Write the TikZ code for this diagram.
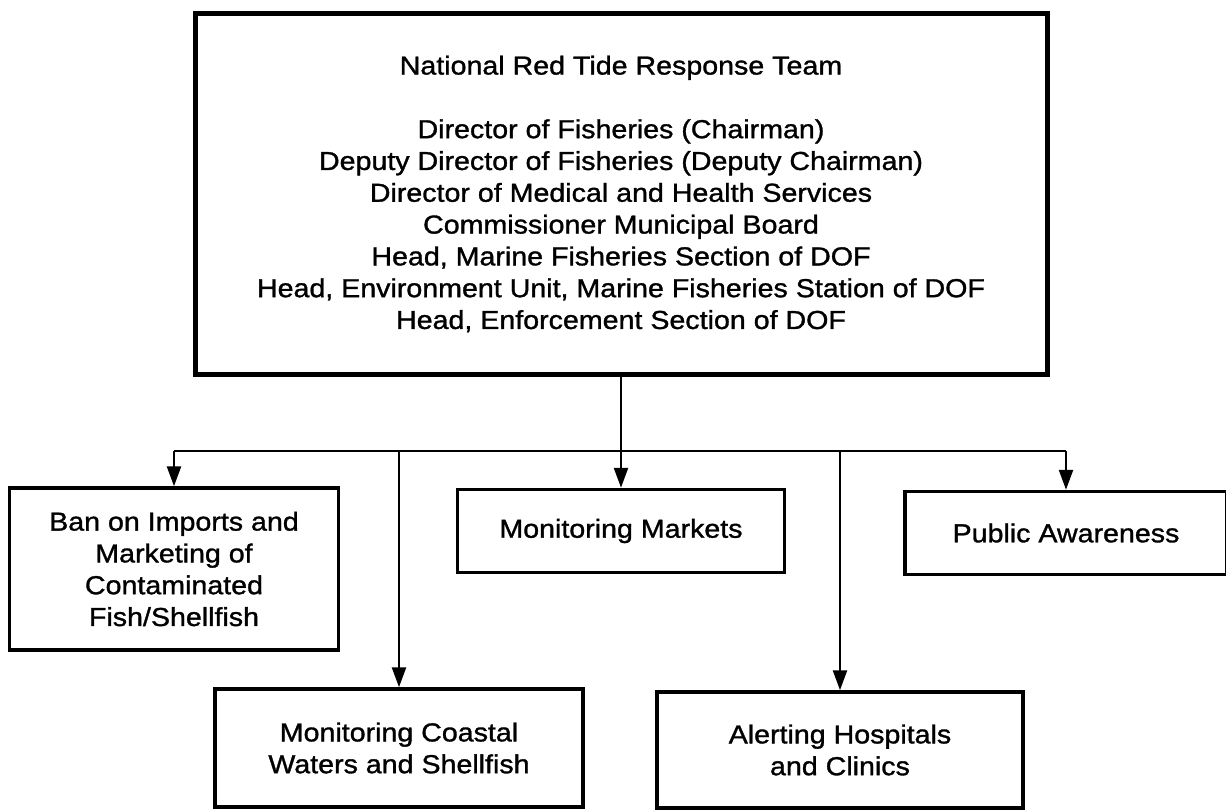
\documentclass[tikz,border=0pt]{standalone}
\usepackage{fontspec}
\setmainfont[FakeStretch=1.1, FakeBold=1.2]{Liberation Sans}
\usetikzlibrary{arrows.meta}

\tikzset{
    teambox/.style={draw, line width=5pt, minimum width=852pt, minimum height=360pt, align=center, inner sep=0pt},
    taskbox/.style={draw, line width=3.5pt, align=center, inner sep=0pt},
    link/.style={line width=2.5pt},
}

\begin{document}
\begin{tikzpicture}[x=1pt, y=-1pt, >={Triangle[length=20pt, width=14pt]},
    font=\fontsize{26}{31.8}\selectfont]
    \useasboundingbox (0,0) rectangle (1226,810);

    % --- Equipo nacional ---
    \node[teambox] (team) at (621,194) {National Red Tide Response Team\\[31.8pt]
        Director of Fisheries (Chairman)\\
        Deputy Director of Fisheries (Deputy Chairman)\\
        Director of Medical and Health Services\\
        Commissioner Municipal Board\\
        Head, Marine Fisheries Section of DOF\\
        Head, Environment Unit, Marine Fisheries Station of DOF\\
        Head, Enforcement Section of DOF};

    % --- Tareas (fila superior) ---
    \node[taskbox, minimum width=329pt, minimum height=162pt] (ban) at (174,569)
        {Ban on Imports and\\Marketing of\\Contaminated\\Fish/Shellfish};
    \node[taskbox, minimum width=327pt, minimum height=83pt] (markets) at (621,531)
        {Monitoring Markets};
    \node[taskbox, minimum width=322pt, minimum height=83pt] (public) at (1066,533)
        {Public Awareness};

    % --- Tareas (fila inferior) ---
    \node[taskbox, minimum width=368pt, minimum height=118pt] (coastal) at (399,748)
        {Monitoring Coastal\\Waters and Shellfish};
    \node[taskbox, minimum width=366pt, minimum height=116pt] (alert) at (840,750)
        {Alerting Hospitals\\and Clinics};

    % --- Conexiones ---
    \coordinate (busL) at (174,451);
    \coordinate (busR) at (1066,451);
    \draw[link] (busL) -- (busR);
    \draw[link, ->] (team.south) -- (markets.north);
    \draw[link, ->] (busL) -- (ban.north);
    \draw[link, ->] (busR) -- (public.north);
    \draw[link, ->] (coastal.north |- busL) -- (coastal.north);
    \draw[link, ->] (alert.north |- busL) -- (alert.north);

\end{tikzpicture}
\end{document}
